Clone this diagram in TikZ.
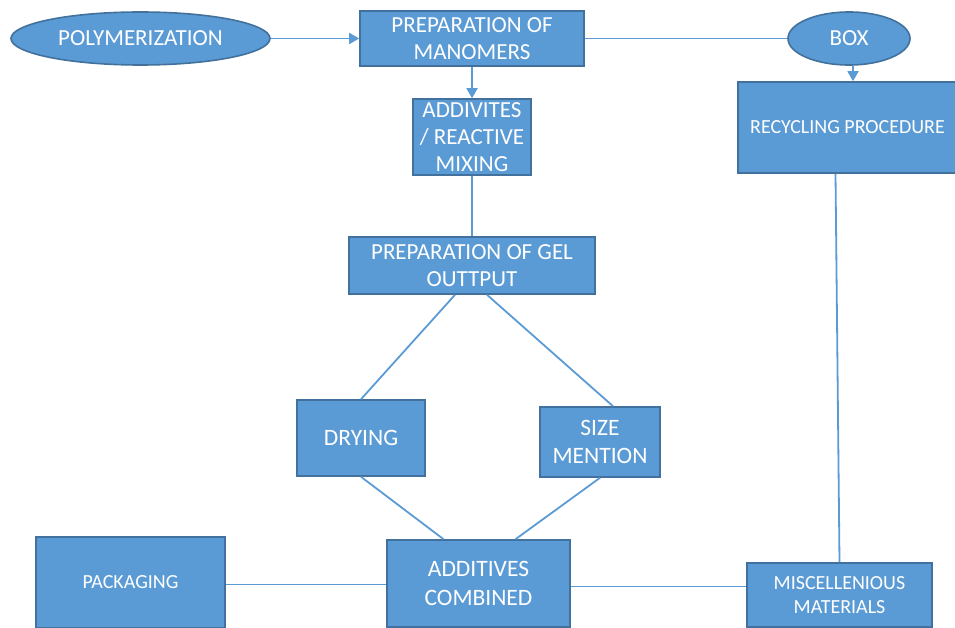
\documentclass[tikz,border=0pt]{standalone}
\usepackage{fontspec}
\setmainfont{Carlito}
\usepackage{xcolor}
\usepackage{tikz}
\usetikzlibrary{shapes.geometric, arrows.meta, positioning}

\definecolor{stepfill}{HTML}{5B9BD5}
\definecolor{stepedge}{HTML}{41719C}

\begin{document}
\begin{tikzpicture}[
    x=1pt, y=-1pt,
    box/.style={draw=stepedge, line width=1.6pt, rectangle, fill=stepfill, text=white, align=center, inner sep=2pt, font=\fontsize{23}{27}\selectfont},
    oval/.style={box, ellipse},
    big/.style={font=\fontsize{23.5}{28.5}\selectfont},
    small/.style={font=\fontsize{20}{24}\selectfont},
    arrow/.style={-{Triangle[length=10pt,width=11pt]}, stepfill, line width=1.8pt},
    link/.style={stepfill, line width=1.8pt}
]
\useasboundingbox (0,0) rectangle (955,628);

\node (polym) [oval, minimum width=259pt, minimum height=53pt] at (140.5,38.5) {POLYMERIZATION};
\node (manomers) [box, minimum width=224pt, minimum height=55pt] at (472,38.5) {PREPARATION OF\\MANOMERS};
\node (boxnode) [oval, minimum width=122pt, minimum height=53pt] at (849,38.5) {BOX};
\node (recycling) [box, small, minimum width=219pt, minimum height=91pt] at (847.5,127.5) {RECYCLING PROCEDURE};
\node (mixing) [box, minimum width=118pt, minimum height=76pt] at (472,137) {ADDIVITES\\/ REACTIVE\\MIXING};
\node (gel) [box, minimum width=246pt, minimum height=57pt] at (472,265.5) {PREPARATION OF GEL\\OUTTPUT};
\node (drying) [box, big, minimum width=128pt, minimum height=76pt] at (361,438) {DRYING};
\node (size) [box, big, minimum width=120pt, minimum height=70pt] at (600,442) {SIZE\\MENTION};
\node (additives) [box, big, minimum width=183pt, minimum height=87pt] at (478.5,583.5) {ADDITIVES\\COMBINED};
\node (packaging) [box, small, minimum width=189pt, minimum height=91pt] at (130.5,582.5) {PACKAGING};
\node (misc) [box, small, minimum width=185pt, minimum height=64pt] at (839.5,595) {MISCELLENIOUS\\MATERIALS};

\draw [arrow] (polym) -- (manomers);
\draw [link] (manomers) -- (boxnode);
\draw [arrow] ([xshift=4pt]boxnode.south) -- ([xshift=4pt]boxnode.south |- recycling.north);
\draw [arrow] (manomers) -- (mixing);
\draw [link] (mixing) -- (gel);
\draw [link] ([xshift=-17pt]gel.south) -- (drying.north);
\draw [link] ([xshift=15pt]gel.south) -- ([xshift=13pt]size.north);
\draw [link] (drying.south) -- ([xshift=-35pt]additives.north);
\draw [link] (size.south) -- ([xshift=37pt]additives.north);
\draw [link] ([yshift=-2pt]packaging.east) -- ([yshift=-2pt]packaging.east -| additives.west);
\draw [link] ([yshift=-3pt]additives.east) -- ([yshift=-3pt]additives.east -| misc.west);
\draw [link] ([xshift=-12pt]recycling.south) -- (misc.north);

\end{tikzpicture}
\end{document}
